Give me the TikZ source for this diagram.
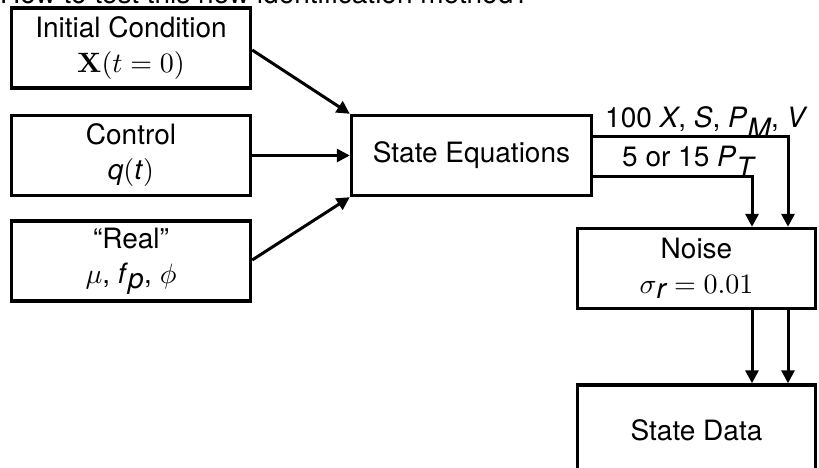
\documentclass[tikz,border=0pt]{standalone}
\usepackage[no-math]{fontspec}
\setmainfont{TeX Gyre Heros}
\DeclareFontShape{OML}{cmm}{m}{it}{<->cmmi10}{}
\DeclareFontShape{OT1}{cmr}{m}{n}{<->cmr10}{}
\DeclareFontShape{OT1}{cmr}{bx}{n}{<->cmbx10}{}
\DeclareFontShape{OMS}{cmsy}{m}{n}{<->cmsy10}{}
\DeclareFontShape{OMX}{cmex}{m}{n}{<->cmex10}{}
\usetikzlibrary{arrows.meta,calc}
\begin{document}
\begin{tikzpicture}[x=1pt,y=-1pt,
  box/.style={draw,line width=3.4pt,align=center,inner sep=0pt,
    font=\fontsize{28}{35}\selectfont,minimum width=239pt,minimum height=80pt},
  arr/.style={line width=3pt,-{Triangle[length=13pt,width=13pt]}},
  lbl/.style={inner sep=0pt,anchor=base west,font=\fontsize{28}{34}\selectfont}]
\useasboundingbox (0,0) rectangle (819,468);
\begin{scope}
\clip (0,0) rectangle (819,468);
\node[lbl] (title) at (0,4) {How to test this new identification method?};
\node[box] (init) at (131,48) {Initial Condition\\$\mathbf{X}(t=0)$};
\node[box] (ctrl) at (131,155.5) {Control\\\textit{q}$($\textit{t}$)$};
\node[box] (real) at (131,261) {``Real''\\$\mu$, \textit{f}$_{\textit{p}}$, $\phi$};
\node[box,minimum width=240pt] (state) at (471.5,155.5) {State Equations};
\node[box,minimum width=238pt] (noise) at (696.5,268.5) {Noise\\$\sigma$$_{\textit{r}}=0.01$};
\node[box,minimum width=238pt,minimum height=90pt] (data) at (696.5,430) {State Data};
\coordinate (u) at (788,137);
\coordinate (l) at (752,176);
\draw[arr] ($(init.east)+(0,2)$) -- (state.north west);
\draw[arr] (ctrl.east) -- (state.west);
\draw[arr] ($(real.east)+(0,-1)$) -- (state.south west);
\draw[arr] (state.east |- u) -| (noise.north -| u);
\draw[arr] (state.east |- l) -| (noise.north -| l);
\draw[arr] (noise.south -| u) -- (data.north -| u);
\draw[arr] (noise.south -| l) -- (data.north -| l);
\node[lbl] (lab1) at (605,128) {100 \textit{X}, \textit{S}, \textit{P}$_{\textit{M}}$, \textit{V}};
\node[lbl] (lab2) at (622,167) {5 or 15 \textit{P}$_{\textit{T}}$};
\end{scope}
\end{tikzpicture}
\end{document}
